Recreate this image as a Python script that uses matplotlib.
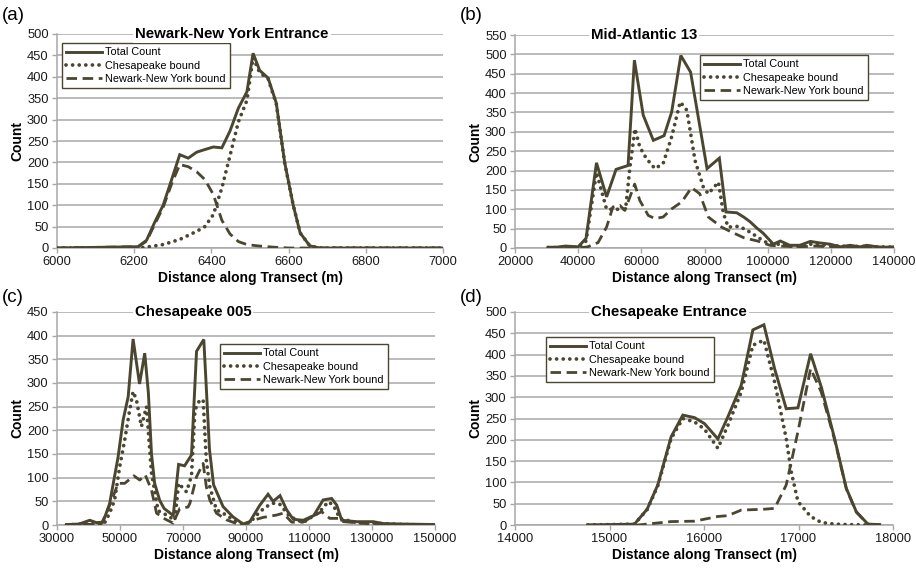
import matplotlib
matplotlib.use("Agg")
import matplotlib.pyplot as plt

plt.rcParams['font.family'] = ['Liberation Sans', 'DejaVu Sans']

OLIVE = '#4b4630'
GRID = '#a8a8a8'

# ---------------- data ----------------
labels = ["Total Count", "Chesapeake bound", "Newark-New York bound"]

# (a) Newark-New York Entrance
a_tot_x = [6000, 6210, 6232, 6253, 6275, 6297, 6318, 6340, 6362, 6383, 6405, 6427, 6448, 6470, 6492, 6508, 6525, 6547, 6568, 6590, 6612, 6630, 6655, 6680, 7000]
a_tot_y = [0, 3, 18, 60, 100, 160, 218, 210, 224, 230, 236, 234, 273, 327, 365, 455, 415, 397, 339, 199, 100, 35, 5, 0, 0]
a_ches_x = [6000, 6210, 6232, 6275, 6318, 6362, 6383, 6405, 6427, 6448, 6470, 6492, 6508, 6525, 6547, 6568, 6590, 6612, 6630, 6655, 6680, 7000]
a_ches_y = [0, 0, 2, 8, 20, 39, 50, 78, 140, 215, 295, 345, 445, 410, 395, 337, 198, 100, 35, 5, 0, 0]
a_nny_x = [6000, 6210, 6232, 6253, 6275, 6297, 6318, 6340, 6362, 6383, 6405, 6427, 6448, 6470, 6492, 6520, 6560, 6600, 7000]
a_nny_y = [0, 3, 16, 55, 95, 150, 195, 190, 178, 160, 125, 65, 33, 15, 8, 5, 2, 0, 0]

# (b) Mid-Atlantic 13
b_tot_x = [30500, 33000, 36000, 38000, 40000, 42500, 45800, 49000, 52000, 55800, 57800, 60600, 63800, 67200, 69600, 72500, 75600, 80800, 84700, 86800, 90200, 92400, 94400, 96500, 98600, 101800, 104000, 107000, 110200, 113500, 116600, 119700, 123000, 126100, 129300, 131400, 134600, 137000, 140000]
b_tot_y = [2, 2, 5, 4, 3, 25, 220, 132, 203, 213, 485, 343, 278, 290, 351, 497, 454, 205, 232, 93, 91, 80, 68, 52, 38, 10, 18, 7, 7, 17, 13, 10, 3, 7, 3, 7, 3, 2, 3]
b_ches_x = [30500, 40000, 42500, 45800, 49000, 52000, 55000, 56400, 58000, 59500, 61600, 64300, 66900, 69600, 72300, 74400, 77000, 79600, 81200, 84400, 86000, 87500, 91000, 94400, 97600, 100700, 104000, 107000, 110000, 113500, 117000, 120000, 126000, 131000, 140000]
b_ches_y = [1, 2, 18, 195, 100, 100, 100, 209, 308, 261, 231, 205, 218, 287, 377, 356, 226, 158, 140, 170, 89, 54, 56, 41, 24, 9, 10, 5, 5, 10, 8, 6, 4, 4, 2]
b_nny_x = [30500, 40000, 43000, 46300, 49000, 51000, 53200, 54800, 57900, 59500, 62200, 64300, 66900, 69600, 72800, 75900, 78500, 81200, 85400, 88600, 92600, 96800, 100700, 104000, 110000, 115000, 120000, 130000, 140000]
b_nny_y = [0, 0, 3, 14, 54, 106, 110, 97, 165, 123, 84, 76, 80, 101, 119, 156, 140, 80, 54, 41, 26, 18, 7, 5, 3, 5, 3, 2, 1]

# (c) Chesapeake 005
c_tot_x = [33000, 37000, 40400, 42500, 44600, 46700, 49400, 51000, 52600, 54150, 56200, 57850, 59000, 60000, 61000, 62600, 64000, 66900, 68600, 70500, 72700, 74300, 76600, 77400, 78400, 79700, 82700, 85900, 89100, 91200, 94400, 97000, 98600, 100800, 102900, 105000, 108200, 111500, 114500, 117200, 118800, 120400, 125100, 130400, 133600, 140000, 150000]
c_tot_y = [1, 2, 10, 5, 6, 45, 144, 222, 271, 393, 298, 363, 280, 150, 88, 52, 35, 20, 128, 125, 148, 367, 392, 290, 160, 85, 39, 17, 2, 7, 42, 65, 50, 62, 32, 12, 10, 20, 53, 56, 42, 10, 7, 7, 3, 2, 1]
c_ches_x = [33000, 40000, 43000, 45000, 46700, 48300, 49900, 51500, 53000, 54150, 55200, 56800, 58400, 60000, 62100, 64800, 67400, 68600, 71100, 72700, 73800, 75300, 76400, 77400, 78500, 80600, 82700, 86900, 89100, 91200, 94400, 96500, 98600, 100700, 103900, 108100, 113400, 116100, 117700, 119800, 125000, 130000, 140000, 150000]
c_ches_y = [0, 3, 2, 3, 25, 53, 123, 180, 240, 282, 265, 208, 250, 110, 30, 21, 10, 88, 70, 104, 243, 264, 264, 137, 81, 32, 25, 7, 2, 5, 28, 39, 46, 44, 18, 5, 28, 49, 42, 14, 5, 4, 1, 0]
c_nny_x = [33000, 44000, 45700, 47800, 49400, 51500, 54400, 56270, 58000, 60000, 61600, 64200, 66850, 68980, 71600, 72200, 74300, 76400, 77400, 78500, 80600, 83800, 87000, 89100, 92300, 95400, 99700, 101800, 104500, 108100, 111900, 114000, 116600, 119300, 120900, 130000, 150000]
c_nny_y = [0, 2, 25, 60, 88, 88, 104, 95, 106, 74, 25, 13, 4, 35, 38, 46, 102, 130, 81, 53, 25, 11, 3, 1, 10, 16, 21, 25, 6, 6, 21, 28, 14, 14, 7, 2, 0]

# (d) Chesapeake Entrance
d_tot_x = [14770, 15264, 15398, 15511, 15652, 15776, 15900, 16005, 16147, 16253, 16394, 16517, 16634, 16747, 16870, 16994, 17128, 17241, 17382, 17506, 17612, 17735, 17859]
d_tot_y = [0, 2, 37, 94, 207, 258, 252, 238, 202, 254, 328, 458, 470, 367, 273, 275, 402, 324, 203, 86, 31, 2, 1]
d_ches_x = [14770, 15264, 15398, 15511, 15652, 15776, 15900, 16005, 16147, 16253, 16394, 16517, 16634, 16747, 16870, 16923, 16994, 17128, 17241, 17382, 17506, 17735, 17859]
d_ches_y = [0, 2, 36, 92, 203, 250, 242, 225, 180, 234, 312, 422, 434, 336, 203, 125, 55, 20, 6, 2, 1, 0, 0]
d_nny_x = [14770, 15300, 15652, 15900, 16147, 16253, 16394, 16634, 16747, 16870, 16994, 17128, 17241, 17382, 17506, 17612, 17735, 17859]
d_nny_y = [0, 0, 8, 9, 20, 22, 35, 37, 39, 94, 219, 367, 312, 200, 85, 30, 2, 0]

titles = ["Newark-New York Entrance", "Mid-Atlantic 13", "Chesapeake 005", "Chesapeake Entrance"]
letters = ["(a)", "(b)", "(c)", "(d)"]

# ---------------- figure ----------------
W, H = 916, 571
fig = plt.figure(figsize=(W / 100, H / 100), dpi=100)


def fx(px):
    return px / W


def fy(py):
    return 1 - py / H


def panel(box, tot, ches, nny, xlim, xstep, ylim, title, title_pos, leg_pos, letter, letter_pos):
    l, t, r, b = box
    ax = fig.add_axes([fx(l), fy(b), fx(r - l), (b - t) / H])
    ax.plot(tot[0], tot[1], color=OLIVE, lw=2.1, solid_joinstyle='miter', label=labels[0], zorder=4)
    ax.plot(ches[0], ches[1], color=OLIVE, lw=2.7, linestyle=(0, (0.01, 1.75)),
            dash_capstyle='round', label=labels[1], zorder=3)
    ax.plot(nny[0], nny[1], color=OLIVE, lw=2.0, linestyle=(0, (3.8, 2.0)),
            dash_capstyle='butt', label=labels[2], zorder=3)
    ax.set_xlim(*xlim)
    ax.set_ylim(0, ylim)
    ax.set_xticks(range(xlim[0], xlim[1] + 1, xstep))
    ax.set_yticks(range(0, ylim + 1, 50))
    ax.yaxis.grid(True, color=GRID, lw=1.1)
    ax.set_axisbelow(True)
    for s in ['top', 'right']:
        ax.spines[s].set_visible(False)
    for s in ['left', 'bottom']:
        ax.spines[s].set_color(GRID)
        ax.spines[s].set_linewidth(1.1)
    ax.tick_params(axis='both', colors=GRID, length=3.5, width=1.0, labelsize=9.3,
                   labelcolor='#1a1a1a', pad=2.5)
    ax.set_xlabel("Distance along Transect (m)", fontsize=10, fontweight='bold', labelpad=2)
    ax.set_ylabel("Count", fontsize=10, fontweight='bold', labelpad=2)
    fig.text(fx(title_pos[0]), fy(title_pos[1]), title, fontsize=10.8, fontweight='bold',
             ha='center', va='center', zorder=10,
             bbox=dict(facecolor='white', edgecolor='none', pad=1.5))
    leg = ax.legend(loc='upper left', bbox_to_anchor=(fx(leg_pos[0]), fy(leg_pos[1])),
                    bbox_transform=fig.transFigure, borderaxespad=0, fontsize=7.8,
                    frameon=True, fancybox=False, framealpha=1, edgecolor=OLIVE,
                    handlelength=3.3, handletextpad=0.3, labelspacing=0.3,
                    borderpad=0.4)
    leg.get_frame().set_linewidth(1.0)
    leg.set_zorder(20)
    fig.text(fx(letter_pos[0]), fy(letter_pos[1]), letter, fontsize=13.5, ha='left', va='center')
    return ax


panel((57, 34, 443, 248), (a_tot_x, a_tot_y), (a_ches_x, a_ches_y), (a_nny_x, a_nny_y),
      (6000, 7000), 200, 500, titles[0], (232, 34), (62, 43), letters[0], (2, 15))
panel((515, 35, 894, 248), (b_tot_x, b_tot_y), (b_ches_x, b_ches_y), (b_nny_x, b_nny_y),
      (20000, 140000), 20000, 550, titles[1], (644, 35), (700, 55), letters[1], (460, 15))
panel((57, 312, 435, 525), (c_tot_x, c_tot_y), (c_ches_x, c_ches_y), (c_nny_x, c_nny_y),
      (30000, 150000), 20000, 450, titles[2], (193, 312), (220, 344), letters[2], (2, 297))
panel((515, 312, 893, 525), (d_tot_x, d_tot_y), (d_ches_x, d_ches_y), (d_nny_x, d_nny_y),
      (14000, 18000), 1000, 500, titles[3], (669, 312), (546, 337), letters[3], (460, 297))

fig.savefig("out.png", dpi=100)
